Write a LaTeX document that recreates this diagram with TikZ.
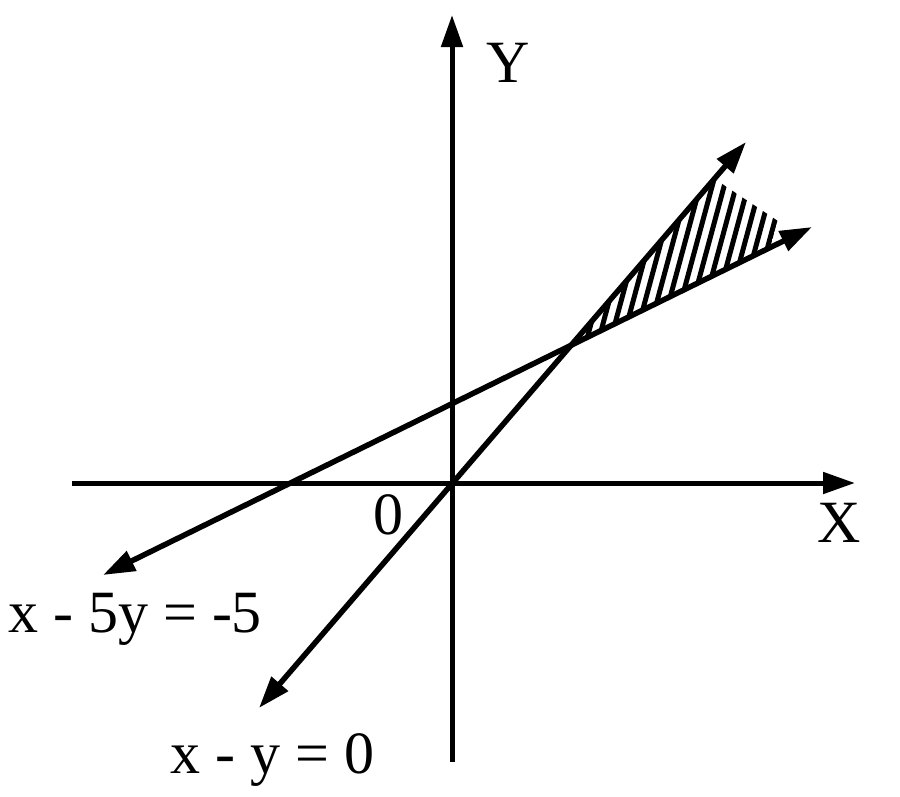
\documentclass[tikz,border=0pt]{standalone}
\usepackage{fontspec}
\setmainfont{Liberation Serif}
\usetikzlibrary{arrows.meta}
\begin{document}
\begin{tikzpicture}[x=1pt,y=-1pt,
  tip/.style={-{Triangle[length=32pt,width=21pt]}},
  both/.style={{Triangle[length=32pt,width=21pt]}-{Triangle[length=32pt,width=21pt]}},
  axisline/.style={line width=5pt,tip},
  graphline/.style={line width=5.5pt,both},
  hatchline/.style={line width=5pt},
  lbl/.style={font=\fontsize{60}{72}\selectfont,inner sep=0pt,anchor=base}]
\useasboundingbox (0,0) rectangle (900,796);
% coordinates
\coordinate (O) at (452,483);
\coordinate (xl) at (72,483);
\coordinate (xr) at (855,483);
\coordinate (yb) at (452,762);
\coordinate (yt) at (452,15);
\coordinate (a1) at (259,708);
\coordinate (a2) at (746,142);
\coordinate (b1) at (103,575);
\coordinate (b2) at (812,227);
% hatch region
\coordinate (P) at (572,343.6);
\coordinate (U) at (714,178.5);
\coordinate (C) at (778,221);
\coordinate (L) at (770,248);
\begin{scope}
  \clip (P) -- (U) -- (C) -- (L) -- cycle;
  \foreach \i in {0,...,15}{
    \draw[hatchline] ({775-12*\i-0.27*150},370) -- ({775-12*\i+0.27*90},130);
  }
\end{scope}
% axes
\draw[axisline] (xl) -- (xr);
\draw[axisline] (yb) -- (yt);
% lines
\draw[graphline] (a1) -- (a2);
\draw[graphline] (b1) -- (b2);
% labels
\node[lbl] (Ylab) at (508,82) {Y};
\node[lbl] (Xlab) at (839,542) {X};
\node[lbl] (Olab) at (388,534) {0};
\node[lbl,anchor=base west] (eq1) at (8,632) {x - 5y = -5};
\node[lbl,anchor=base west] (eq2) at (170,773) {x - y = 0};
\end{tikzpicture}
\end{document}
